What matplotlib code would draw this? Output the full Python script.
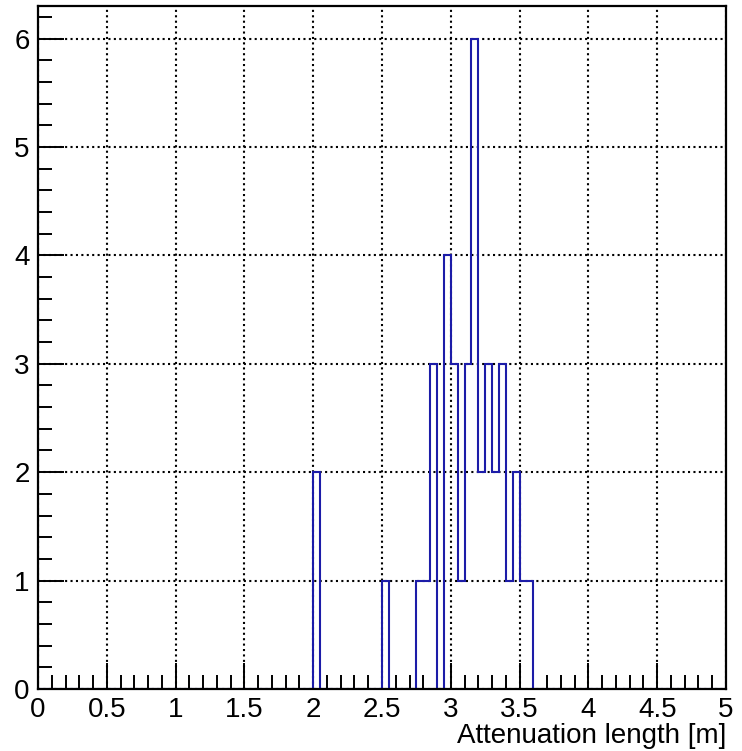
import numpy as np
import matplotlib
matplotlib.use("Agg")
import matplotlib.pyplot as plt
from matplotlib.ticker import MultipleLocator

plt.rcParams['font.family'] = ['Liberation Sans', 'DejaVu Sans']

# histogram: 100 bins of width 0.05 from 0 to 5, only non-empty bins listed
bin_width = 0.05
x_min, x_max = 0.0, 5.0
bin_low = [2.00, 2.50, 2.75, 2.80, 2.85, 2.95, 3.00, 3.05, 3.10, 3.15,
           3.20, 3.25, 3.30, 3.35, 3.40, 3.45, 3.50, 3.55]
counts = [2, 1, 1, 1, 3, 4, 3, 1, 3, 6,
          2, 3, 2, 3, 1, 2, 1, 1]
x_title = "Attenuation length [m]"

n_bins = int(round((x_max - x_min) / bin_width))
edges = np.linspace(x_min, x_max, n_bins + 1)
hist = np.zeros(n_bins)
for lo, c in zip(bin_low, counts):
    hist[int(round((lo - x_min) / bin_width))] = c

fig = plt.figure(figsize=(7.42, 7.51), dpi=100)
ax = fig.add_axes([38 / 742, 1 - 689 / 751, 688 / 742, 683 / 751])

ax.stairs(hist, edges, color='#1c1ca8', lw=1.5, baseline=0)

ax.set_xlim(x_min, x_max)
ax.set_ylim(0, max(counts) * 1.05)

ax.xaxis.set_major_locator(MultipleLocator(0.5))
ax.xaxis.set_minor_locator(MultipleLocator(0.1))
ax.yaxis.set_major_locator(MultipleLocator(1))
ax.yaxis.set_minor_locator(MultipleLocator(0.2))
ax.xaxis.set_major_formatter(plt.FuncFormatter(lambda v, p: f"{v:g}"))

ax.grid(True, which='major', color='black', linestyle=(0, (1, 1.6)), lw=1.5)
ax.set_axisbelow(True)

ax.tick_params(which='both', direction='in', top=False, right=False,
               labelsize=20, width=1.4, pad=6)
ax.tick_params(which='major', length=19)
ax.tick_params(which='minor', length=10)
for s in ax.spines.values():
    s.set_linewidth(1.6)

ax.set_xlabel(x_title, fontsize=20, loc='right', labelpad=0)

fig.savefig("out.png", dpi=100)
